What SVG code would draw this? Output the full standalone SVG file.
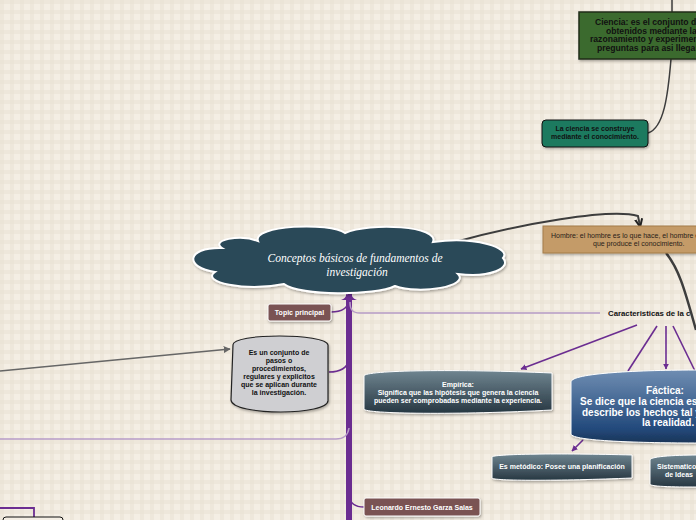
<svg xmlns="http://www.w3.org/2000/svg" width="696" height="520" viewBox="0 0 696 520">
<defs>
<pattern id="plaid" width="10" height="10" patternUnits="userSpaceOnUse">
<rect width="10" height="10" fill="#f4eee4"/>
<rect x="0" y="0" width="4" height="10" fill="#e9e1d3" opacity="0.55"/>
<rect x="0" y="0" width="10" height="4" fill="#e9e1d3" opacity="0.55"/>
</pattern>
<linearGradient id="gSlate" x1="0" y1="0" x2="0" y2="1">
<stop offset="0" stop-color="#6f8590"/>
<stop offset="1" stop-color="#273742"/>
</linearGradient>
<linearGradient id="gBlue" x1="0" y1="0" x2="0" y2="1">
<stop offset="0" stop-color="#6f8db2"/>
<stop offset="0.8" stop-color="#234a7c"/>
<stop offset="1" stop-color="#1b3558"/>
</linearGradient>
<marker id="arrP" viewBox="0 0 10 10" refX="9" refY="5" markerWidth="6" markerHeight="6" orient="auto-start-reverse" markerUnits="userSpaceOnUse">
<path d="M0,0 L10,5 L0,10 z" fill="#6b2d91"/>
</marker>
<marker id="arrG" viewBox="0 0 10 10" refX="9" refY="5" markerWidth="7" markerHeight="7" orient="auto" markerUnits="userSpaceOnUse">
<path d="M0,0 L10,5 L0,10 z" fill="#666"/>
</marker>
<marker id="arrK" viewBox="0 0 10 10" refX="8" refY="5" markerWidth="9" markerHeight="9" orient="auto" markerUnits="userSpaceOnUse">
<path d="M0,1 L9,5 L0,9" fill="none" stroke="#222" stroke-width="2.2"/>
</marker>
<filter id="sh" x="-10%" y="-10%" width="130%" height="140%">
<feDropShadow dx="1" dy="1.5" stdDeviation="1" flood-color="#000" flood-opacity="0.3"/>
</filter>
</defs>
<style>
.t{font-family:"Liberation Sans",Arial,sans-serif;font-weight:bold;font-size:7px;}
.w{fill:#fff;}
.k{fill:#111;}
.maroon{fill:#7a5252;stroke:#fff;stroke-width:1;}
.dark{fill:none;stroke:#3d3d3d;}
.pur{fill:none;stroke:#6b2d91;stroke-width:1.6;}
.lpur{fill:none;stroke:#b79cc7;stroke-width:1.5;}
.big{font-family:"Liberation Sans",Arial,sans-serif;font-weight:bold;font-size:8.6px;fill:#111;}
.fa{font-family:"Liberation Sans",Arial,sans-serif;font-weight:bold;font-size:10px;fill:#fff;}
</style>
<rect width="696" height="520" fill="url(#plaid)"/>

<g id="connectors">
<path class="dark" stroke-width="1.5" d="M672,0 L672,12"/>
<path class="dark" stroke-width="1.5" d="M671,59 C668,95 664,128 648,133"/>
<path class="dark" stroke-width="2" d="M455,242 C520,224 610,208 638,216 L640,226" marker-end="url(#arrK)"/>
<path class="dark" stroke-width="2.5" d="M666,253 C680,270 686,295 696,330"/>
<path d="M346,292 L346,520 L352,520 L352,292 Z" fill="#6b2d91"/>
<path d="M341,300 C346,298 347,296 346,290 L352,290 C351,296 352,298 357,300 Z" fill="#6b2d91"/>
<path class="pur" d="M331,312 C342,312 348,308 349,300"/>
<path class="lpur" d="M600,313 L360,313 C352,313 350,309 350,302"/>
<path class="pur" d="M329,372 C340,372 347,368 349,360"/>
<path class="lpur" d="M0,439 L336,439 C344,439 348,435 349,428"/>
<path class="pur" d="M364,507 C354,507 350,503 349,496"/>
<path fill="none" stroke="#6b2d91" stroke-width="1.8" d="M0,508 L34,508 L34,520"/>
<path fill="none" stroke="#666" stroke-width="1.5" d="M0,371 L230,349" marker-end="url(#arrG)"/>
<path class="pur" d="M637,325 L521,369" marker-end="url(#arrP)"/>
<path class="pur" d="M657,326 L628,371"/>
<path class="pur" d="M666,326 L666,369" marker-end="url(#arrP)"/>
<path class="pur" d="M673,326 L695,371"/>
<path class="pur" d="M583,440 L572,451" marker-end="url(#arrP)"/>
</g>

<g id="ciencia">
<rect x="579" y="12" width="125" height="47" fill="#3b6a2f" stroke="#1f2c1b" stroke-width="1.5" filter="url(#sh)"/>
<text class="big" x="595" y="25">Ciencia: es el conjunto de</text>
<text class="big" x="606" y="33.5">obtenidos mediante la o</text>
<text class="big" x="590" y="42">razonamiento y experimenta</text>
<text class="big" x="597" y="50.5">preguntas para asi llegar a</text>
</g>

<g id="ciencia-construye">
<rect x="542" y="120" width="106" height="27" rx="4" fill="#1f7a5f" stroke="#111" stroke-width="1" filter="url(#sh)"/>
<text class="t k" text-anchor="middle" x="595" y="131">La ciencia se construye</text>
<text class="t k" text-anchor="middle" x="595" y="139">mediante el conocimiento.</text>
</g>

<g id="hombre">
<rect x="543" y="226" width="160" height="27" fill="#c49b68" stroke="#a47c4a" stroke-width="1" filter="url(#sh)"/>
<text x="551" y="238" font-family="Liberation Sans,Arial,sans-serif" font-size="7" fill="#2a2118">Hombre: el hombre es lo que hace, el hombre e</text>
<text x="593" y="246" font-family="Liberation Sans,Arial,sans-serif" font-size="7" fill="#2a2118">que produce el conocimiento.</text>
</g>

<g id="central">
<path d="M258,241 C252,225 330,222 345,233 C370,222 440,226 433,242 C475,236 512,248 503,258 C512,268 490,278 458,274 C470,286 420,295 395,286 C375,296 300,296 284,284 C245,292 200,282 215,272 C185,268 185,247 222,248 C210,240 240,234 258,241 Z" fill="#2c4858" stroke="#fff" stroke-width="2" filter="url(#sh)"/>
<text x="355" y="262" text-anchor="middle" font-family="Liberation Serif,Times New Roman,serif" font-style="italic" font-size="11.5" fill="#fff">Conceptos básicos de fundamentos de</text>
<text x="357" y="276" text-anchor="middle" font-family="Liberation Serif,Times New Roman,serif" font-style="italic" font-size="11.5" fill="#fff">investigación</text>
</g>

<g id="topic">
<rect x="268" y="304" width="63" height="17" rx="2" class="maroon" filter="url(#sh)"/>
<text class="t w" text-anchor="middle" x="299.5" y="315">Topic principal</text>
</g>

<g id="caracteristicas">
<text x="608" y="316" font-family="Liberation Sans,Arial,sans-serif" font-weight="bold" font-size="7.8" fill="#111">Caracteristicas de la  c</text>
</g>

<g id="pasos">
<path d="M233,345 C232,333 326,333 328,345 L328,400 C330,416 232,416 231,400 Z" fill="#cfcfd2" stroke="#222" stroke-width="1.2" filter="url(#sh)"/>
<text class="t k" text-anchor="middle" x="279" y="355">Es un conjunto de</text>
<text class="t k" text-anchor="middle" x="279" y="363">pasos o</text>
<text class="t k" text-anchor="middle" x="279" y="371">procedimientos,</text>
<text class="t k" text-anchor="middle" x="279" y="379">regulares y explicitos</text>
<text class="t k" text-anchor="middle" x="279" y="387">que se aplican durante</text>
<text class="t k" text-anchor="middle" x="279" y="395">la investigación.</text>
</g>

<g id="empirica">
<path d="M364,376 C364,370 460,369 552,373 L552,410 C460,415 364,414 364,409 Z" fill="url(#gSlate)" stroke="#fff" stroke-width="1" filter="url(#sh)"/>
<text class="t w" text-anchor="middle" x="458" y="387">Empírica:</text>
<text class="t w" text-anchor="middle" x="458" y="395">Significa que las hipótesis que genera la ciencia</text>
<text class="t w" text-anchor="middle" x="458" y="403">pueden ser comprobadas mediante la experiencia.</text>
</g>

<g id="factica">
<path d="M571,382 C571,373 640,370 700,370 L700,443 C640,443 572,441 571,434 Z" fill="url(#gBlue)" stroke="#fff" stroke-width="1" filter="url(#sh)"/>
<text class="fa" x="665" y="394" text-anchor="middle">Fáctica:</text>
<text class="fa" x="580" y="405">Se dice que la ciencia es fá</text>
<text class="fa" x="582" y="416">describe los hechos tal y c</text>
<text class="fa" x="642" y="426">la realidad.</text>
</g>

<g id="metodico">
<path d="M492,457 C492,454 560,453 632,455 L632,478 C560,481 492,481 492,478 Z" fill="url(#gSlate)" stroke="#fff" stroke-width="1" filter="url(#sh)"/>
<text class="t w" text-anchor="middle" x="562" y="469">Es metódico: Posee una planificación</text>
</g>

<g id="sistematico">
<path d="M650,460 C650,456 680,455 700,455 L700,487 C680,487 650,487 650,484 Z" fill="url(#gSlate)" stroke="#fff" stroke-width="1" filter="url(#sh)"/>
<text class="t w" x="657" y="469">Sistematico</text>
<text class="t w" x="665" y="477">de Ideas</text>
</g>

<g id="leonardo">
<rect x="364" y="498" width="116" height="18" rx="2" class="maroon" filter="url(#sh)"/>
<text class="t w" text-anchor="middle" x="422" y="510">Leonardo Ernesto Garza Salas</text>
</g>

<g id="bottom-left">
<rect x="3" y="517" width="60" height="10" rx="3" fill="#f4eee4" stroke="#111" stroke-width="1"/>
</g>
</svg>
